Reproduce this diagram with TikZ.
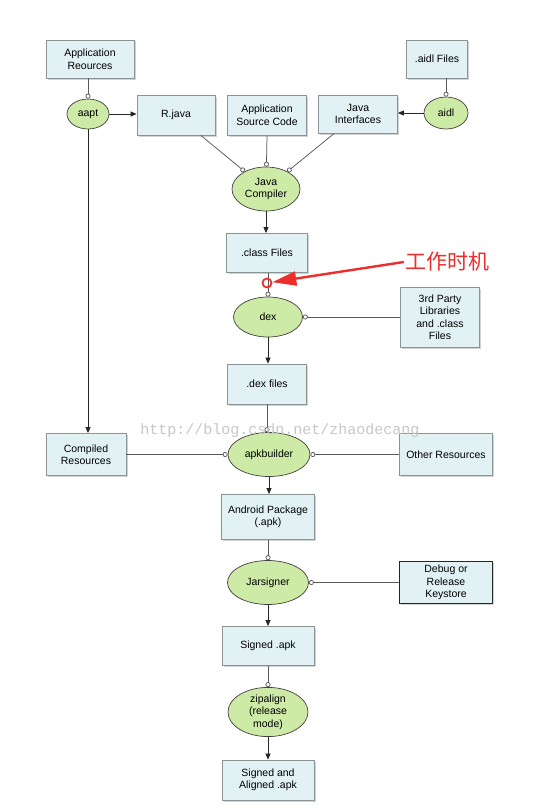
\documentclass[tikz,border=0pt]{standalone}
\usepackage{fontspec}
\setmainfont{Liberation Sans}
\newfontfamily\cjkfont{Noto Sans CJK SC}
\newfontfamily\wmfont{Liberation Mono}
\usetikzlibrary{arrows.meta,shapes.geometric,shadows,calc}
\definecolor{boxfill}{HTML}{E2F2F4}
\definecolor{boxline}{HTML}{8A9496}
\definecolor{ellfill}{HTML}{CDEBA6}
\definecolor{annred}{HTML}{EE2D2D}
\begin{document}
\begin{tikzpicture}[x=1pt,y=-1pt,
  txt/.style={font=\fontsize{10.5}{12.5}\selectfont},
  box/.style={txt, draw=boxline, line width=0.8pt, fill=boxfill, align=center, inner sep=2pt,
    drop shadow={shadow xshift=1.5pt,shadow yshift=-1.5pt,opacity=0.35}},
  darkbox/.style={box, draw=black!85, line width=1pt},
  proc/.style={txt, ellipse, draw=black!75, line width=0.7pt, fill=ellfill, align=center, inner sep=0pt},
  flow/.style={draw=black!85, line width=0.75pt, -{Triangle[length=6pt,width=5pt]}},
  feed/.style={draw=black!65, line width=0.75pt, -{Circle[open,length=5pt,width=5pt,fill=white]}},
]
\useasboundingbox (0,0) rectangle (552,808);

% boxes
\node[box, minimum width=88pt, minimum height=38pt] (ar) at (90,59) {Application\\Reources};
\node[box, minimum width=61pt, minimum height=38pt] (af) at (437,59) {.aidl Files};
\node[box, minimum width=78pt, minimum height=40pt] (rj) at (176,115) {R.java};
\node[box, minimum width=79pt, minimum height=40pt] (as) at (267,115) {Application\\Source Code};
\node[box, minimum width=79pt, minimum height=38pt] (ji) at (358,114) {Java\\Interfaces};
\node[box, minimum width=81pt, minimum height=39pt] (cf) at (267,253) {.class Files};
\node[box, minimum width=79pt, minimum height=60pt] (tp) at (440,317) {3rd Party\\Libraries\\and .class\\Files};
\node[box, minimum width=79pt, minimum height=40pt] (df) at (267,384) {.dex files};
\node[box, minimum width=80pt, minimum height=42pt] (cr) at (86,454.5) {Compiled\\Resources};
\node[box, minimum width=93pt, minimum height=42pt] (orr) at (446,454.5) {Other Resources};
\node[box, minimum width=93pt, minimum height=45pt] (pk) at (268,517) {Android Package\\(.apk)};
\node[darkbox, minimum width=93pt, minimum height=42pt] (ks) at (446,582.5) {Debug or\\Release\\Keystore};
\node[box, minimum width=92pt, minimum height=39pt] (sa) at (268,646) {Signed .apk};
\node[box, minimum width=92pt, minimum height=40pt] (saa) at (268,780) {Signed and\\Aligned .apk};

% processes
\node[proc, minimum width=42pt, minimum height=30pt] (aapt) at (88,114) {aapt};
\node[proc, minimum width=44pt, minimum height=32pt] (aidl) at (446,113) {aidl};
\node[proc, minimum width=68pt, minimum height=44pt] (jc) at (266,189) {Java\\Compiler};
\node[proc, minimum width=69pt, minimum height=40pt] (dex) at (268,317) {dex};
\node[proc, minimum width=82pt, minimum height=44pt] (ab) at (269,454.5) {apkbuilder};
\node[proc, minimum width=81pt, minimum height=44pt] (js) at (268,582.5) {Jarsigner};
\node[proc, minimum width=80pt, minimum height=44pt] (za) at (268,712) {zipalign\\(release\\mode)};

% connectors
\draw[feed] (aapt.north |- ar.south) -- (aapt.north);
\draw[flow] (aapt.east) -- (aapt.east -| rj.west);
\draw[flow] (aapt.south) -- (aapt.south |- cr.north);
\draw[feed] (aidl.north |- af.south) -- (aidl.north);
\draw[flow] (aidl.west) -- (aidl.west -| ji.east);
\draw[feed] (rj) -- (jc);
\draw[feed] (as.south) -- (jc);
\draw[feed] (ji) -- (jc);
\draw[flow] (jc.south) -- (jc.south |- cf.north);
\draw[feed] (dex.north |- cf.south) -- (dex.north);
\draw[feed] (tp.west) -- (dex.east);
\draw[flow] (dex.south) -- (dex.south |- df.north);
\draw[feed] (df.south) -- (df.south |- ab.north);
\draw[feed] (cr.east) -- (ab.west);
\draw[feed] (orr.west) -- (ab.east);
\draw[flow] (ab.south) -- (ab.south |- pk.north);
\draw[feed] (pk.south) -- (js.north);
\draw[feed] (ks.west) -- (js.east);
\draw[flow] (js.south) -- (js.south |- sa.north);
\draw[feed] (sa.south) -- (za.north);
\draw[flow] (za.south) -- (za.south |- saa.north);

% annotation
\node[circle, draw=annred, line width=1.8pt, minimum size=9pt, inner sep=0pt] (rc) at (267,283) {};
\node[text=annred, font=\cjkfont\fontsize{21}{24}\selectfont, inner sep=1pt] (ann) at (447,262) {工作时机};
\draw[annred, line width=2.4pt, -{Triangle[length=24pt,width=14pt]}] (ann.west) -- (rc);

% watermark
\node[text=black!22, font=\wmfont\fontsize{15}{17}\selectfont] (wm) at (280,431) {http://blog.csdn.net/zhaodecang};
\end{tikzpicture}
\end{document}
